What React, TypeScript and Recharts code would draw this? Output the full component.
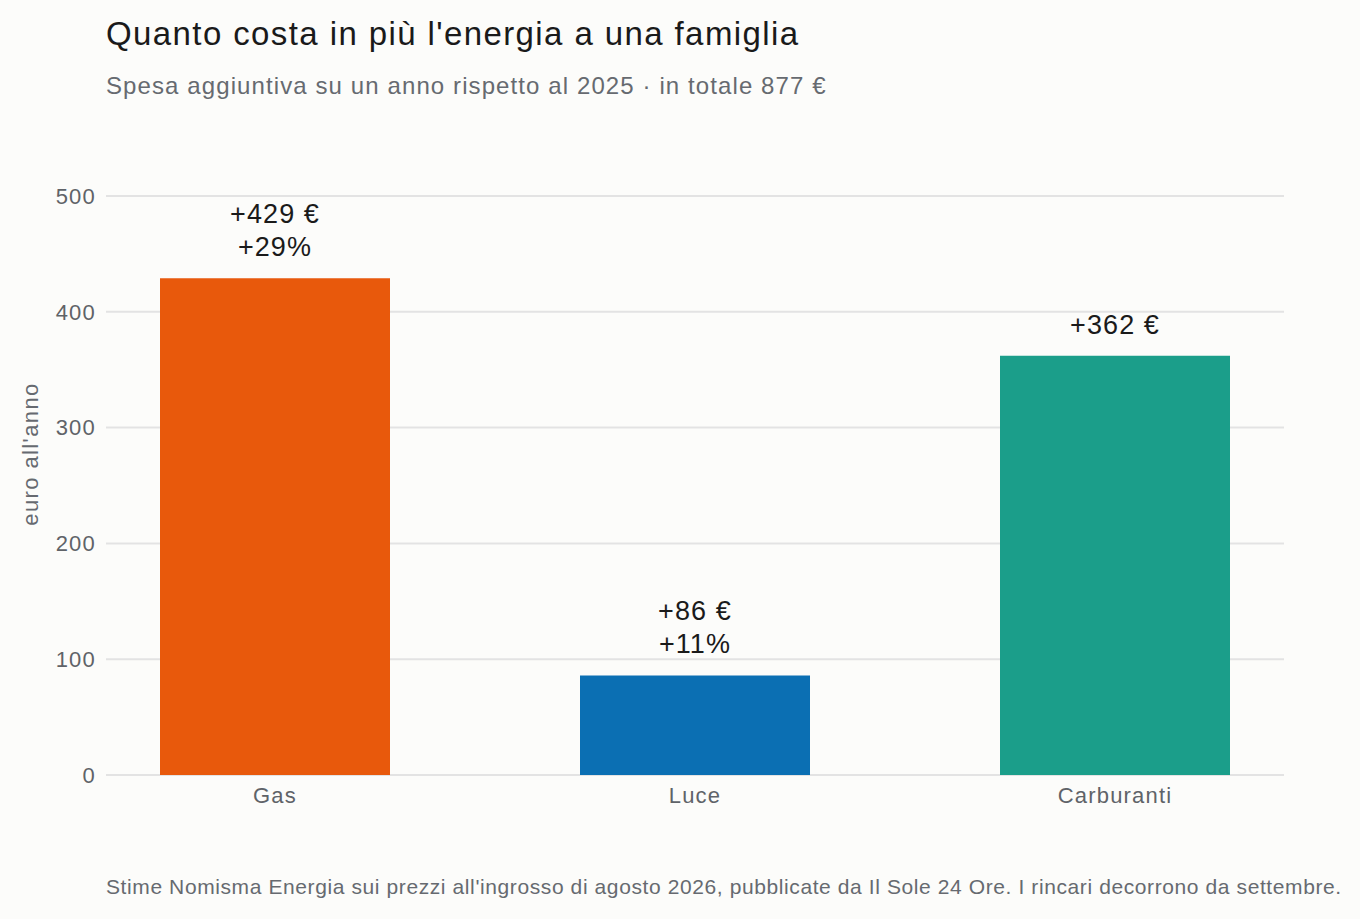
import React from 'react';
import { BarChart, Bar, XAxis, YAxis, CartesianGrid, Cell, LabelList } from 'recharts';

const CATEGORIES = ['Gas', 'Luce', 'Carburanti'];
const EXTRA_EURO = [429, 86, 362];
const EXTRA_PCT = ['+29%', '+11%', ''];
const BAR_COLORS = ['#e8590c', '#0b6fb3', '#1b9e8a'];
const Y_TICKS = [0, 100, 200, 300, 400, 500];

const data = CATEGORIES.map((name, i) => ({
    name,
    euro: EXTRA_EURO[i],
    pct: EXTRA_PCT[i],
}));

const FONT = '"Liberation Sans", Arial, Helvetica, sans-serif';

if (typeof document !== 'undefined') {
    document.body.style.margin = '0';
    document.body.style.background = '#fcfcfa';
}

const BarLabel = (props: any) => {
    const { x, y, width, index } = props;
    const cx = x + width / 2;
    const row = data[index];
    const lines = row.pct ? [`+${row.euro} €`, row.pct] : [`+${row.euro} €`];
    const lineH = 33;
    return (
        <text
            x={cx}
            textAnchor="middle"
            fontFamily={FONT}
            fontSize={27}
            fill="#1a1a1a"
            style={{ letterSpacing: 1.1 }}
        >
            {lines.map((l, i) => (
                <tspan key={i} x={cx} y={y - 22 - (lines.length - 1 - i) * lineH}>
                    {l}
                </tspan>
            ))}
        </text>
    );
};

const tickStyle = { fill: '#5f6368', fontSize: 22, fontFamily: FONT, letterSpacing: 1.2 };

export default function App() {
    return (
        <div style={{ position: 'relative', width: 1360, height: 919, background: '#fcfcfa', fontFamily: FONT, overflow: 'hidden' }}>
            <div style={{ position: 'absolute', left: 106, top: 15, fontSize: 33, letterSpacing: 1.4, color: '#1a1a1a', whiteSpace: 'nowrap' }}>
                Quanto costa in più l'energia a una famiglia
            </div>
            <div style={{ position: 'absolute', left: 106, top: 72, fontSize: 24, letterSpacing: 1.1, color: '#666a70', whiteSpace: 'nowrap' }}>
                Spesa aggiuntiva su un anno rispetto al 2025 · in totale 877 €
            </div>
            <div
                style={{
                    position: 'absolute',
                    left: 31,
                    top: 454,
                    transform: 'translate(-50%, -50%) rotate(-90deg)',
                    fontSize: 22,
                    letterSpacing: 1.4,
                    color: '#666a70',
                    whiteSpace: 'nowrap',
                }}
            >
                euro all'anno
            </div>
            <div style={{ position: 'absolute', left: 106, top: 875, fontSize: 21, letterSpacing: 0.6, color: '#666a70', whiteSpace: 'nowrap' }}>
                Stime Nomisma Energia sui prezzi all'ingrosso di agosto 2026, pubblicate da Il Sole 24 Ore. I rincari decorrono da settembre.
            </div>
            <div style={{ position: 'absolute', left: 0, top: 0 }}>
                <BarChart
                    width={1360}
                    height={919}
                    data={data}
                    margin={{ top: 196, right: 76, bottom: 104, left: 46 }}
                >
                    <CartesianGrid vertical={false} stroke="#e3e3e3" strokeWidth={2} />
                    <XAxis
                        dataKey="name"
                        axisLine={false}
                        tickLine={false}
                        tickSize={0}
                        tickMargin={12}
                        height={40}
                        padding={{ left: -41, right: -41 }}
                        tick={tickStyle}
                    />
                    <YAxis
                        domain={[0, 500]}
                        ticks={Y_TICKS}
                        axisLine={false}
                        tickLine={false}
                        tickSize={0}
                        tickMargin={10}
                        width={60}
                        tick={tickStyle}
                    />
                    <Bar dataKey="euro" barSize={230} isAnimationActive={false}>
                        {data.map((d, i) => (
                            <Cell key={d.name} fill={BAR_COLORS[i]} />
                        ))}
                        <LabelList dataKey="euro" content={BarLabel} />
                    </Bar>
                </BarChart>
            </div>
        </div>
    );
}
